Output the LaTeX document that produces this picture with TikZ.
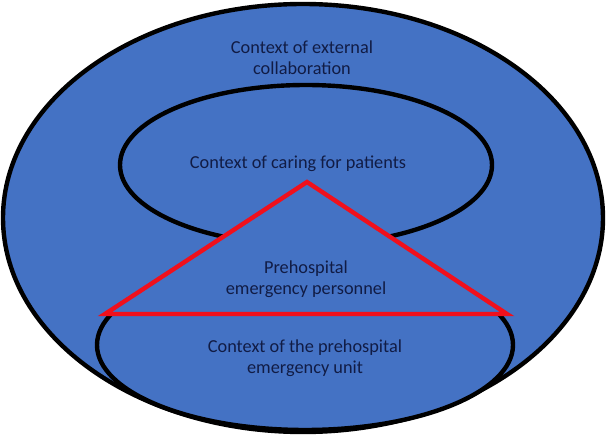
\documentclass[tikz,border=0pt]{standalone}
\usepackage{fontspec}
\setmainfont{Carlito}
\definecolor{fillblue}{HTML}{4472C4}
\definecolor{txt}{HTML}{111C45}
\definecolor{tri}{HTML}{F0101C}
\begin{document}
\begin{tikzpicture}[x=1pt,y=-1pt,
  ring/.style={draw=black,line width=4.4pt,fill=fillblue},
  lbl/.style={text=txt,align=center,font=\fontsize{18.3}{21.5}\selectfont,inner sep=0pt}]
\useasboundingbox (0,0) rectangle (608,435);
% outer ellipse
\draw[ring] (303,218) ellipse [x radius=300, y radius=214];
% top inner ellipse
\draw[ring] (306,165) ellipse [x radius=186, y radius=80];
% bottom ellipse (only below the triangle base)
\begin{scope}
  \clip (0,314) rectangle (608,440);
  \draw[ring] (305,345) ellipse [x radius=208, y radius=85];
\end{scope}
% triangle
\coordinate (apex) at (307,182);
\coordinate (bl) at (105,314);
\coordinate (br) at (507,314);
\draw[draw=tri,line width=4.4pt,fill=fillblue,line join=miter] (apex) -- (bl) -- (br) -- cycle;
% labels
\node[lbl] (ext) at (302,57.5) {Context of external\\collaboration};
\node[lbl] (care) at (298,164) {Context of caring for patients};
\node[lbl] (pers) at (306,279) {Prehospital\\emergency personnel};
\node[lbl] (unit) at (305,358) {Context of the prehospital\\emergency unit};
\end{tikzpicture}
\end{document}
